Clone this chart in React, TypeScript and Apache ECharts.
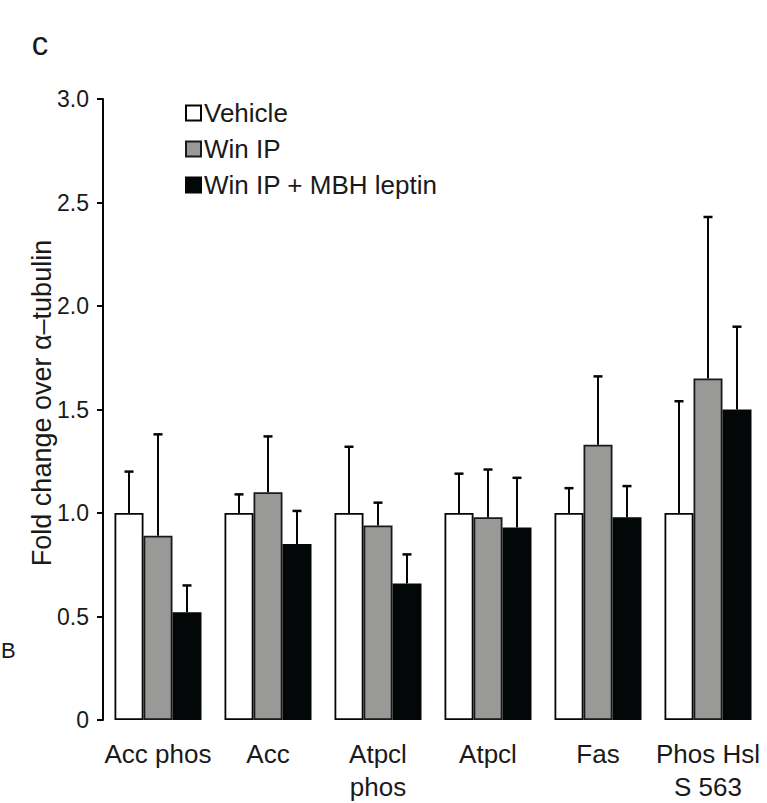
import React, { useEffect, useRef } from "react";
import * as echarts from "echarts";

const categories = ["Acc phos", "Acc", "Atpcl\nphos", "Atpcl", "Fas", "Phos Hsl\nS 563"];
const seriesNames = ["Vehicle", "Win IP", "Win IP + MBH leptin"];
const vehicle = [1.0, 1.0, 1.0, 1.0, 1.0, 1.0];
const vehicleErr = [0.2, 0.09, 0.32, 0.19, 0.12, 0.54];
const winIP = [0.89, 1.1, 0.94, 0.98, 1.33, 1.65];
const winIPErr = [0.49, 0.27, 0.11, 0.23, 0.33, 0.78];
const winLeptin = [0.52, 0.85, 0.66, 0.93, 0.98, 1.5];
const winLeptinErr = [0.13, 0.16, 0.14, 0.24, 0.15, 0.4];
const yTicks = { min: 0, max: 3, interval: 0.5 };

const FONT = "'Liberation Sans', Arial, Helvetica, sans-serif";
const TEXT = "#1a1a1a";
const BAR_W = 29;
const fills = ["#ffffff", "#999a98", "#040707"];
const borders = ["#050505", "#1a1a1a", "#040707"];

export default function App() {
  const ref = useRef<HTMLDivElement>(null);
  useEffect(() => {
    if (!ref.current) return;
    const chart = echarts.init(ref.current, null, { renderer: "svg" });
    const values = [vehicle, winIP, winLeptin];
    const errs = [vehicleErr, winIPErr, winLeptinErr];
    const barSeries = values.map((vals, k) => ({
      name: seriesNames[k],
      type: "bar",
      data: vals,
      barWidth: BAR_W,
      barGap: "0%",
      itemStyle: { color: fills[k], borderColor: borders[k], borderWidth: 1.8 },
      z: 2,
    }));
    const errSeries = values.map((vals, k) => ({
      type: "custom",
      name: seriesNames[k] + " err",
      data: vals.map((v, i) => [i, v, errs[k][i]]),
      encode: { x: 0, y: 1 },
      z: 3,
      silent: true,
      renderItem: (params: any, api: any) => {
        const idx = api.value(0);
        const v = api.value(1);
        const e = api.value(2);
        const base = api.coord([idx, v]);
        const top = api.coord([idx, v + e]);
        const x = base[0] + (k - 1) * BAR_W;
        return {
          type: "group",
          children: [
            { type: "line", shape: { x1: x, y1: base[1], x2: x, y2: top[1] }, style: { stroke: "#050505", lineWidth: 2 } },
            { type: "line", shape: { x1: x - 4.5, y1: top[1], x2: x + 4.5, y2: top[1] }, style: { stroke: "#050505", lineWidth: 2.5 } },
          ],
        };
      },
    }));
    chart.setOption({
      animation: false,
      textStyle: { fontFamily: FONT },
      grid: { left: 103, right: 4, top: 99, bottom: 76, containLabel: false },
      legend: {
        data: seriesNames,
        orient: "vertical",
        left: 185,
        top: 100,
        padding: 0,
        itemWidth: 15,
        itemHeight: 15,
        itemGap: 10,
        icon: "rect",
        textStyle: { fontSize: 26, color: TEXT, fontFamily: FONT, padding: [0, 0, 0, -2] },
      },
      xAxis: {
        type: "category",
        data: categories,
        axisLine: { show: false },
        axisTick: { show: false },
        axisLabel: { fontSize: 26, color: TEXT, fontFamily: FONT, margin: 17, lineHeight: 33, interval: 0 },
      },
      yAxis: {
        type: "value",
        min: yTicks.min,
        max: yTicks.max,
        interval: yTicks.interval,
        splitLine: { show: false },
        axisLine: { show: true, lineStyle: { color: "#050505", width: 2 } },
        axisTick: { show: true, length: 6, lineStyle: { color: "#050505", width: 2 } },
        axisLabel: {
          fontSize: 23,
          color: TEXT,
          fontFamily: FONT,
          margin: 14,
          formatter: (v: number) => (v === 0 ? "0" : v.toFixed(1)),
        },
      },
      graphic: [
        {
          type: "text",
          x: 42,
          y: 403,
          rotation: Math.PI / 2,
          style: {
            text: "Fold change over α–tubulin",
            fontSize: 27,
            fontFamily: FONT,
            fill: TEXT,
            textAlign: "center",
            textVerticalAlign: "middle",
          },
        },
        {
          type: "text",
          x: 40,
          y: 43,
          style: { text: "c", fontSize: 33, fontFamily: FONT, fill: TEXT, textAlign: "center", textVerticalAlign: "middle" },
        },
        {
          type: "text",
          x: 1,
          y: 650,
          style: { text: "B", fontSize: 22, fontFamily: FONT, fill: TEXT, textAlign: "left", textVerticalAlign: "middle" },
        },
      ],
      series: [...barSeries, ...errSeries],
    });
    return () => chart.dispose();
  }, []);
  return (
    <div
      ref={ref}
      style={{ position: "fixed", left: 0, top: 0, width: 767, height: 803, background: "#ffffff" }}
    />
  );
}
